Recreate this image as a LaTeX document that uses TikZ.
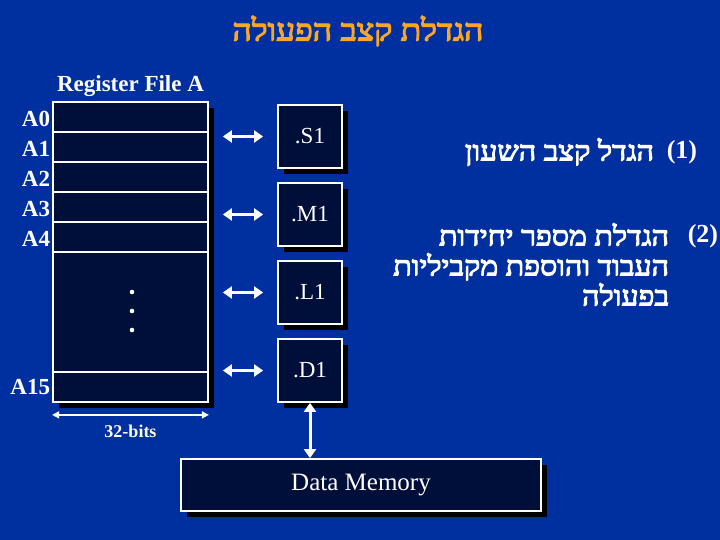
\documentclass[tikz,border=0pt]{standalone}
\usepackage{fontspec}
\setmainfont{Liberation Serif}
\newfontfamily\hebfont[Script=Hebrew, FakeBold=4, FakeStretch=1.12]{Liberation Serif}
\TeXXeTstate=1
\usetikzlibrary{positioning,shadows,arrows.meta}
\definecolor{slideblue}{RGB}{0,48,160}
\definecolor{boxnavy}{RGB}{0,14,58}
\definecolor{titleorange}{RGB}{250,166,42}
\tikzset{every picture/.style={line width=1.8pt}}
\tikzset{
  unitbox/.style={draw=white, fill=boxnavy, text=white, inner sep=0pt,
    font=\fontsize{23}{26}\selectfont,
    drop shadow={shadow xshift=6pt, shadow yshift=-6pt, fill=black, opacity=1}},
  reglabel/.style={anchor=east, text=white, inner sep=1pt,
    font=\fontsize{23}{26}\selectfont\bfseries},
  whitetext/.style={text=white, inner sep=1pt},
  bus/.style={white, line width=3pt,
    {Triangle[width=12pt,length=9pt]}-{Triangle[width=12pt,length=9pt]}},
  dimline/.style={white, line width=1.5pt,
    {Triangle[width=7pt,length=7pt]}-{Triangle[width=7pt,length=7pt]}},
}

\begin{document}
\begin{tikzpicture}[x=1pt, y=-1pt]
    % fundo
    \fill[slideblue] (0,0) rectangle (720,540);
    \useasboundingbox (0,0) rectangle (720,540);
    % titulo
    \node[text=titleorange, font=\hebfont\fontsize{30}{34}\selectfont] (title) at (358,31) {\beginR הגדלת קצב הפעולה\endR};
    % banco de registradores
    \node[unitbox, minimum width=155pt, minimum height=300pt] (rf) at (130.5,252) {};
    \node[whitetext, font=\fontsize{23}{26}\selectfont\bfseries, above=3pt of rf] (rftitle) {Register File A};
    \foreach \y in {132,162,192,222,252,372} { \draw[white] (53,\y) -- (208,\y); }
    \foreach \r [count=\i from 0] in {A0,A1,A2,A3,A4} { \node[reglabel] (lbl\r) at (52,119+30*\i) {\r}; }
    \node[reglabel] (lblA15) at (52,387) {A15};
    \foreach \y in {292,311,330} { \fill[white] (132,\y) circle (2.3pt); }
    % largura
    \draw[dimline] ([yshift=-12pt]rf.south west) -- ([yshift=-12pt]rf.south east)
        node[midway, below=8pt, whitetext, font=\fontsize{18}{20}\selectfont\bfseries] (bits) {32-bits};
    % unidades funcionais
    \foreach \u/\y in {S1/136.5, M1/214.5, L1/292.5, D1/370.5} {
        \node[unitbox, minimum width=64pt, minimum height=63pt] (\u) at (310,\y) {\beginL\hbox{.}\hbox{\u}\endL};
        \draw[bus, shorten <=14pt, shorten >=14pt] (\u.west -| rf.east) -- (\u.west);
    }
    % memoria
    \node[unitbox, minimum width=360pt, minimum height=52pt, font=\fontsize{25}{28}\selectfont] (mem) at (361,485) {Data Memory};
    \draw[bus] (D1.south) -- (D1.south |- mem.north);
    % texto a direita
    \node[whitetext, anchor=east, font=\fontsize{26}{30}\selectfont\bfseries] (n1) at (699,152) {(1)};
    \node[whitetext, left=9pt of n1, font=\hebfont\fontsize{27}{30}\selectfont] (item1) {\beginR הגדל קצב השעון\endR};
    \node[whitetext, anchor=east, font=\fontsize{26}{30}\selectfont\bfseries] (n2) at (720,236) {(2)};
    \node[whitetext, anchor=north east, align=right, font=\hebfont\fontsize{27}{30}\selectfont] (item2) at ([xshift=-15pt, yshift=1pt]n2.north west)
        {\beginR הגדלת מספר יחידות\endR\\\beginR העבוד והוספת מקביליות\endR\\\beginR בפעולה\endR};
\end{tikzpicture}
\end{document}
